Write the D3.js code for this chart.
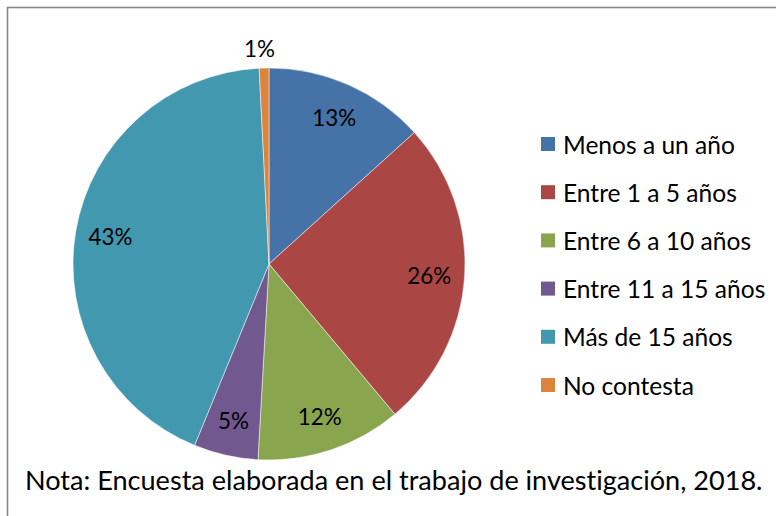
<!DOCTYPE html>
<html>
<head>
<meta charset="utf-8">
<script src="https://cdn.jsdelivr.net/npm/d3@7"></script>
<style>
  html, body { margin: 0; padding: 0; background: #fff; }
  svg { display: block; }
  text { font-family: Lato, "Open Sans", sans-serif; fill: #000; font-variant-ligatures: none; font-feature-settings: "liga" 0, "clig" 0; }
</style>
</head>
<body>
<svg id="chart" width="776" height="516"></svg>
<script>
const categories = ["Menos a un año", "Entre 1 a 5 años", "Entre 6 a 10 años", "Entre 11 a 15 años", "Más de 15 años", "No contesta"];
const values = [13.3, 25.6, 12.0, 5.3, 43.0, 0.8];
const valueLabels = ["13%", "26%", "12%", "5%", "43%", "1%"];
const colors = ["#4572A7", "#AA4643", "#89A54E", "#71588F", "#4198AF", "#DB843D"];
const note = "Nota: Encuesta elaborada en el trabajo de investigación, 2018.";

const svg = d3.select("#chart");

// frame (only top and left edges visible)
svg.append("rect")
  .attr("x", 7.5).attr("y", 7.5).attr("width", 900).attr("height", 700)
  .attr("fill", "none").attr("stroke", "#878787").attr("stroke-width", 1.6);

const cx = 269, cy = 264, r = 196;
const g = svg.append("g").attr("transform", `translate(${cx},${cy})`);

const data = categories.map((c, i) => ({ cat: c, value: values[i], label: valueLabels[i], color: colors[i] }));
const pie = d3.pie().value(d => d.value).sort(null);
const arcs = pie(data);
const arc = d3.arc().innerRadius(0).outerRadius(r);
const labelArc = d3.arc().innerRadius(r * 0.82).outerRadius(r * 0.82);
const outerLabelArc = d3.arc().innerRadius(r + 20).outerRadius(r + 20);

g.selectAll("path.slice").data(arcs).enter().append("path")
  .attr("class", "slice")
  .attr("d", arc)
  .attr("fill", d => d.data.color)
  .attr("stroke", "#ffffff")
  .attr("stroke-width", 0.5);

function fitSize(str, target) {
  const t = svg.append("text").attr("font-size", 20).text(str);
  const w = t.node().getComputedTextLength();
  t.remove();
  return 20 * target / w;
}
const labelSize = fitSize("13%", 44);
const legendSize = fitSize("Menos a un año", 172);
const noteSize = fitSize(note, 738);

g.selectAll("text.pct").data(arcs).enter().append("text")
  .attr("class", "pct")
  .attr("transform", d => {
    const small = d.data.value < 2;
    const p = small ? outerLabelArc.centroid(d) : labelArc.centroid(d);
    if (small) p[0] -= 4;
    return `translate(${p[0]},${p[1]})`;
  })
  .attr("text-anchor", "middle")
  .attr("dominant-baseline", "central")
  .attr("font-size", labelSize)
  .text(d => d.data.label);

const ly = d3.scalePoint().domain(categories).range([144, 385]);
const legend = svg.append("g");
const rows = legend.selectAll("g").data(data).enter().append("g")
  .attr("transform", d => `translate(541,${ly(d.cat)})`);
rows.append("rect").attr("x", 0).attr("y", -7).attr("width", 14).attr("height", 14)
  .attr("fill", d => d.color);
rows.append("text").attr("x", 22).attr("y", 0)
  .attr("dominant-baseline", "central")
  .attr("font-size", legendSize)
  .text(d => d.cat);

svg.append("text").attr("x", 25).attr("y", 490)
  .attr("font-size", noteSize)
  .text(note);
</script>
</body>
</html>
